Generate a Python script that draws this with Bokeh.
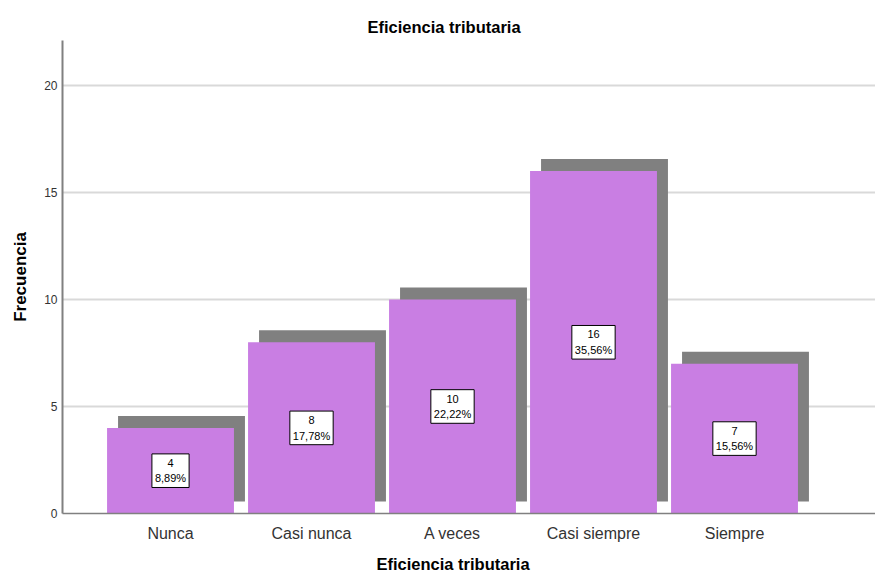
from bokeh.plotting import figure
from bokeh.models import ColumnDataSource, FixedTicker, Range1d, Title
from bokeh.core.properties import value
from bokeh.embed import file_html
from bokeh.resources import INLINE

# ---- data ----
categories = ["Nunca", "Casi nunca", "A veces", "Casi siempre", "Siempre"]
counts = [4, 8, 10, 16, 7]
percent_labels = ["8,89%", "17,78%", "22,22%", "35,56%", "15,56%"]
y_ticks = [0, 5, 10, 15, 20]
title_text = "Eficiencia tributaria"
x_label_text = "Eficiencia tributaria"
y_label_text = "Frecuencia"

# ---- styles ----
FONT = "Liberation Sans"
BAR_COLOR = "#C97EE3"
SHADOW_COLOR = "#808080"
BAR_W = 0.9
SHADOW_DX = 0.078
SHADOW_DY = 0.56

xs = list(range(1, len(categories) + 1))
src = ColumnDataSource(dict(
    x=xs,
    top=counts,
    sx=[x + SHADOW_DX for x in xs],
    stop=[c + SHADOW_DY for c in counts],
    ly=[c / 2 for c in counts],
    lab=[f"{c}\n{p}" for c, p in zip(counts, percent_labels)],
))

p = figure(width=875, height=581, output_backend="svg", toolbar_location=None,
           x_range=Range1d(0.234, 6.0), y_range=Range1d(0, 22.1),
           min_border_left=62, min_border_right=0, min_border_top=40,
           min_border_bottom=67)

p.title.text = title_text
p.title.align = "left"
p.title.offset = 305
p.title.text_font = FONT
p.title.text_font_size = "16.5px"
p.title.text_font_style = "bold"
p.title.text_color = "#000000"

p.vbar(x="sx", width=BAR_W, bottom=SHADOW_DY, top="stop", source=src,
       fill_color=SHADOW_COLOR, line_color=None)
p.vbar(x="x", width=BAR_W, bottom=0, top="top", source=src,
       fill_color=BAR_COLOR, line_color=None)

p.text(x="x", y="ly", text="lab", source=src, text_align="center",
       text_baseline="middle", text_font=value(FONT), text_font_size="11px",
       text_color="#000000", text_line_height=1.3,
       background_fill_color="white", border_line_color="#000000",
       border_line_width=1, padding=3)

p.outline_line_color = None
p.xgrid.visible = False
p.ygrid.grid_line_color = "#d9d9d9"
p.ygrid.grid_line_width = 2

p.xaxis.ticker = FixedTicker(ticks=xs)
p.xaxis.major_label_overrides = {x: c for x, c in zip(xs, categories)}
p.yaxis.ticker = FixedTicker(ticks=y_ticks)

for ax in (p.xaxis, p.yaxis):
    ax.major_tick_out = 0
    ax.major_tick_in = 0
    ax.minor_tick_out = 0
    ax.minor_tick_in = 0
    ax.axis_line_color = "#808080"
    ax.major_label_text_font = FONT
    ax.major_label_text_color = "#333333"

p.xaxis.axis_line_width = 1.5
p.yaxis.axis_line_width = 2
p.xaxis.major_label_text_font_size = "16px"
p.xaxis.major_label_standoff = 11
p.yaxis.major_label_text_font_size = "12px"
p.yaxis.major_label_standoff = 5

p.yaxis.axis_label = y_label_text
p.yaxis.axis_label_text_font = FONT
p.yaxis.axis_label_text_font_size = "17px"
p.yaxis.axis_label_text_font_style = "bold"
p.yaxis.axis_label_text_color = "#000000"
p.yaxis.axis_label_standoff = 11

xt = Title(text=x_label_text, align="left", offset=314,
           text_font=FONT, text_font_size="16.5px", text_font_style="bold",
           text_color="#000000", standoff=17)
p.add_layout(xt, "below")

open("out.html", "w").write(file_html(p, INLINE))
